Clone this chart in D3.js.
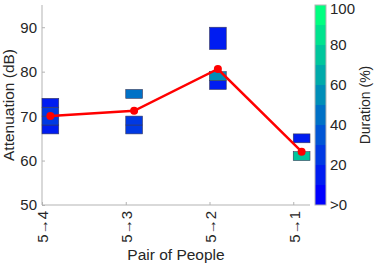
<!DOCTYPE html>
<html>
<head>
<meta charset="utf-8">
<script src="https://cdn.jsdelivr.net/npm/d3@7"></script>
<style>
  body { margin: 0; background: #fff; }
  text { font-family: "Liberation Sans", Arial, sans-serif; fill: #262626; }
</style>
</head>
<body>
<div id="chart"></div>
<script>
// pairs on the x axis
const pairs = ["5\u21924", "5\u21923", "5\u21922", "5\u21921"];

// attenuation cells (dB), one entry per cell
const cellPair = [0, 0, 0, 0, 1, 1, 1, 2, 2, 2, 3, 3];
const cellLow  = [66, 68, 70, 72, 66, 68, 74, 76, 78, 85, 60, 64];
const cellHigh = [68, 70, 72, 74, 68, 70, 76, 78, 80, 90, 62, 66];
const cellDuration = [15, 25, 25, 15, 25, 22, 45, 15, 55, 15, 75, 15];

// mean attenuation per pair (red line)
const meanAtt = [70.0, 71.2, 80.6, 62.0];

const yTicks = [50, 60, 70, 80, 90];
const cbTicks = [0, 20, 40, 60, 80, 100];
const cbTickLabels = [">0", "20", "40", "60", "80", "100"];

const width = 374, height = 266;

const svg = d3.select("#chart").append("svg")
    .attr("width", width)
    .attr("height", height);

// scales
const x = d3.scaleLinear().domain([0, 3.2]).range([42, 310]);
const y = d3.scaleLinear().domain([50, 95]).range([205, 5]);

// winter colormap, 10 levels
const winter = t => d3.rgb(0, Math.round(255 * t), Math.round(255 * (1 - t / 2))).toString();
const levels = d3.range(10).map(k => winter(k / 9));
const color = d3.scaleQuantize().domain([0, 100]).range(levels);

// axes
const xAxis = svg.append("g")
    .attr("transform", `translate(0, ${y(50)})`)
    .call(d3.axisBottom(x).tickValues([0, 1, 2, 3]).tickSize(-3).tickFormat(""));
xAxis.select(".domain").attr("stroke", "#b3b3b3").attr("d", `M${x(0)},0H${x(3.2)}`);
xAxis.selectAll(".tick line").attr("stroke", "#b3b3b3");

const yAxis = svg.append("g")
    .attr("transform", `translate(${x(0)}, 0)`)
    .call(d3.axisLeft(y).tickValues(yTicks).tickSize(-3).tickFormat(""));
yAxis.select(".domain").attr("stroke", "#b3b3b3").attr("d", `M0,${y(95)}V${y(50)}`);
yAxis.selectAll(".tick line").attr("stroke", "#b3b3b3");

// y tick labels
svg.selectAll(".ylab")
    .data(yTicks)
    .enter()
    .append("text")
    .attr("x", 37)
    .attr("y", d => y(d))
    .attr("dy", "0.36em")
    .attr("text-anchor", "end")
    .attr("font-size", "15px")
    .text(d => d);

// x tick labels, rotated
svg.selectAll(".xlab")
    .data(pairs)
    .enter()
    .append("text")
    .attr("transform", (d, i) => `translate(${x(i) + 1}, 211) rotate(-90)`)
    .attr("text-anchor", "end")
    .attr("dy", "0.36em")
    .attr("font-size", "15px")
    .text(d => d);

// axis titles
svg.append("text")
    .attr("x", 176)
    .attr("y", 260)
    .attr("text-anchor", "middle")
    .attr("font-size", "15.5px")
    .text("Pair of People");

svg.append("text")
    .attr("transform", "translate(14, 105) rotate(-90)")
    .attr("text-anchor", "middle")
    .attr("font-size", "15.5px")
    .text("Attenuation (dB)");

// cells
svg.selectAll(".cell")
    .data(cellPair.map((p, i) => ({ p: p, lo: cellLow[i], hi: cellHigh[i], dur: cellDuration[i] })))
    .enter()
    .append("rect")
    .attr("x", d => x(d.p))
    .attr("y", d => y(d.hi))
    .attr("width", d => x(d.p + 0.2) - x(d.p))
    .attr("height", d => y(d.lo) - y(d.hi))
    .attr("fill", d => color(d.dur))
    .attr("stroke", "#3a3a5a")
    .attr("stroke-width", 0.6);

// mean line
const line = d3.line()
    .x((d, i) => x(i + 0.1))
    .y(d => y(d));

svg.append("path")
    .datum(meanAtt)
    .attr("d", line)
    .attr("fill", "none")
    .attr("stroke", "#ff0000")
    .attr("stroke-width", 2.5);

svg.selectAll(".dot")
    .data(meanAtt)
    .enter()
    .append("circle")
    .attr("cx", (d, i) => x(i + 0.1))
    .attr("cy", d => y(d))
    .attr("r", 4)
    .attr("fill", "#ff0000");

// colorbar
const cbX = 315, cbW = 11;
const cb = d3.scaleLinear().domain([0, 100]).range([205, 5]);

svg.selectAll(".cbcell")
    .data(levels)
    .enter()
    .append("rect")
    .attr("x", cbX)
    .attr("y", (d, i) => cb((i + 1) * 10))
    .attr("width", cbW)
    .attr("height", cb(0) - cb(10))
    .attr("fill", d => d);

svg.append("rect")
    .attr("x", cbX)
    .attr("y", cb(100))
    .attr("width", cbW)
    .attr("height", cb(0) - cb(100))
    .attr("fill", "none")
    .attr("stroke", "#b3b3b3")
    .attr("stroke-width", 1);

svg.selectAll(".cblab")
    .data(cbTicks)
    .enter()
    .append("text")
    .attr("x", 330)
    .attr("y", d => Math.max(cb(d), 8.5))
    .attr("dy", "0.36em")
    .attr("font-size", "15px")
    .text((d, i) => cbTickLabels[i]);

svg.append("text")
    .attr("transform", "translate(370, 105) rotate(-90)")
    .attr("text-anchor", "middle")
    .attr("font-size", "14px")
    .text("Duration (%)");
</script>
</body>
</html>
